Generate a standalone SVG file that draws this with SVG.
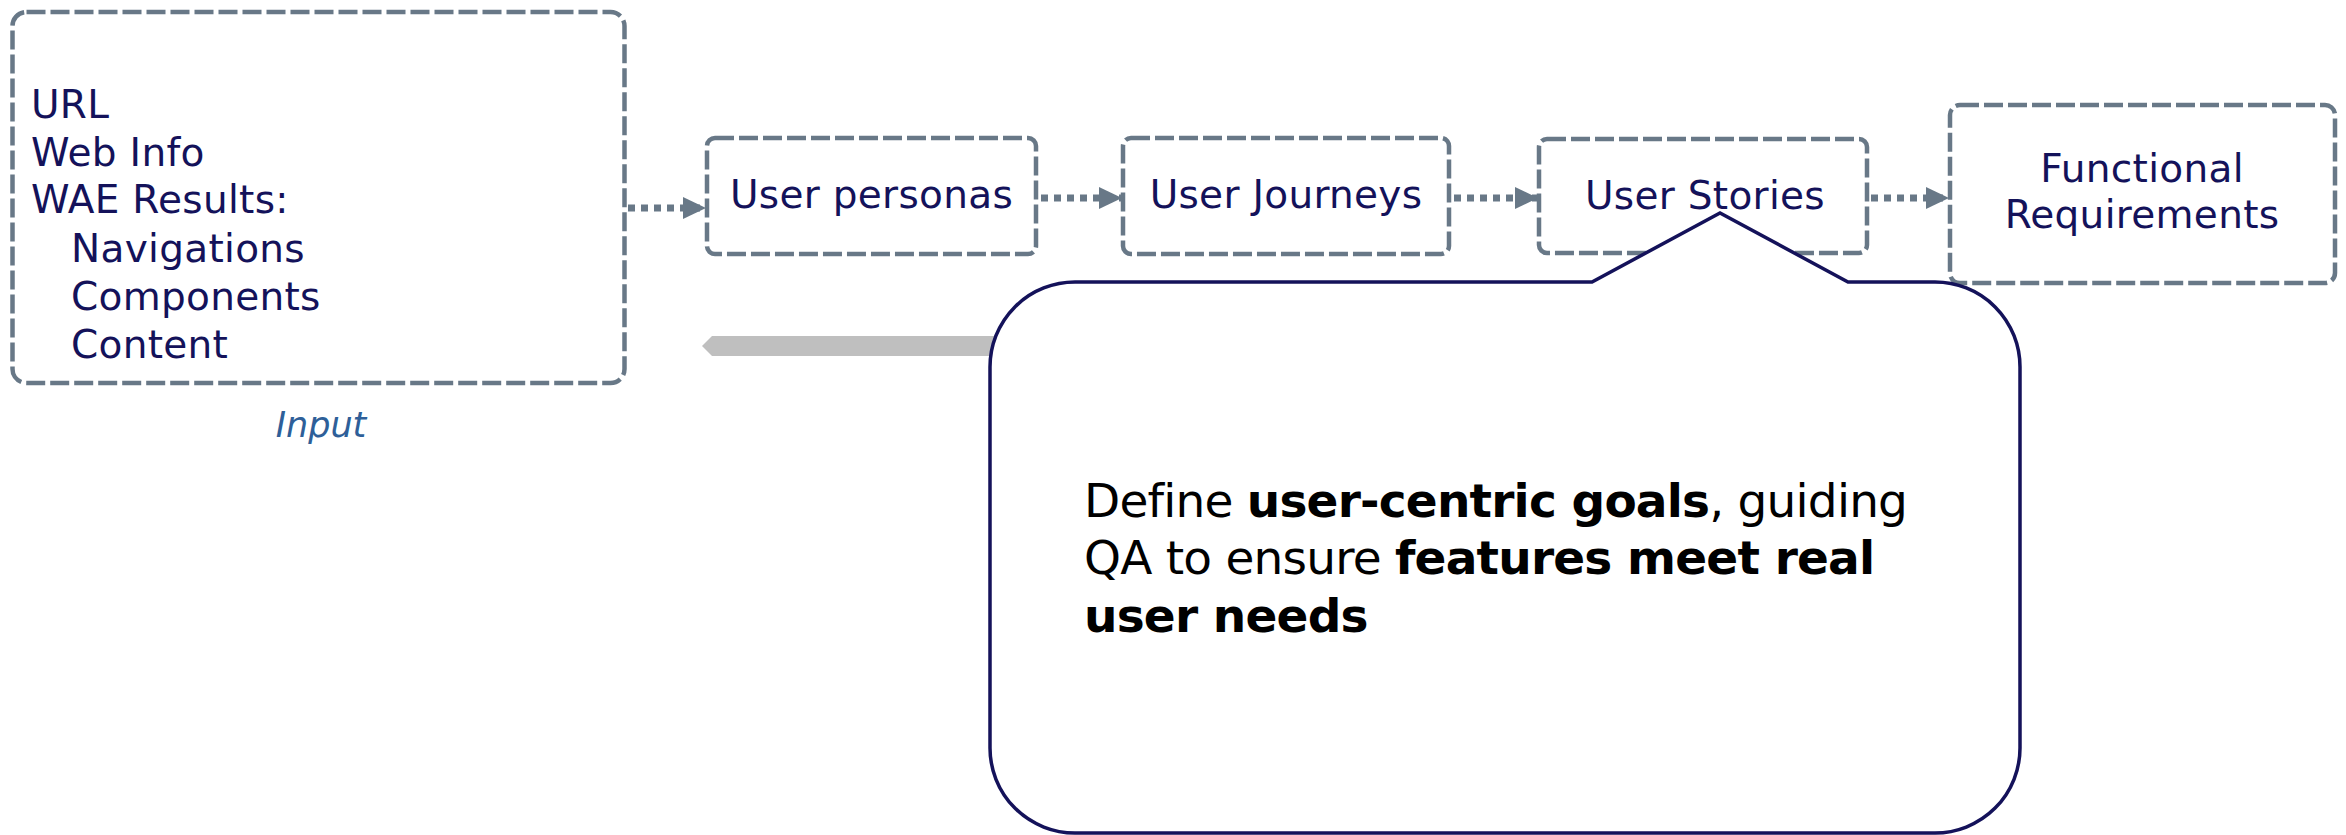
<svg xmlns="http://www.w3.org/2000/svg" width="2346" height="835" viewBox="0 0 2346 835">
<defs>
<style>
.box{fill:none;stroke:#687887;stroke-width:4.5;stroke-dasharray:19 5}
.t{font-family:"DejaVu Sans","Open Sans",sans-serif;font-size:39px;letter-spacing:0.3px;fill:#14125a}
.c{text-anchor:middle}
.conn{fill:none;stroke:#687887;stroke-width:7;stroke-dasharray:7 6}
.call{font-family:"DejaVu Sans","Open Sans",sans-serif;font-size:47px;letter-spacing:-0.8px;fill:#000}
.b{font-weight:700}
</style>
<marker id="ah" markerUnits="userSpaceOnUse" markerWidth="24" markerHeight="24" viewBox="0 0 24 24" refX="23" refY="12" orient="auto">
<polygon points="0,1 23,12 0,23" fill="#687887"/>
</marker>
</defs>
<rect width="2346" height="835" fill="#fff"/>
<g id="input">
<rect class="box" x="12.5" y="12" width="612" height="371" rx="14"/>
<text class="t" x="31" y="118">URL</text>
<text class="t" x="31" y="166">Web Info</text>
<text class="t" x="31" y="213">WAE Results:</text>
<text class="t" x="71" y="262">Navigations</text>
<text class="t" x="71" y="310">Components</text>
<text class="t" x="71" y="358">Content</text>
<text x="321" y="437" text-anchor="middle" font-family="DejaVu Sans, Open Sans, sans-serif" font-size="35" font-style="italic" fill="#2e5f99">Input</text>
</g>
<g id="connectors">
<line class="conn" x1="628" y1="208" x2="706" y2="208" marker-end="url(#ah)"/>
<line class="conn" x1="1041" y1="198" x2="1122" y2="198" marker-end="url(#ah)"/>
<line class="conn" x1="1454" y1="198" x2="1538" y2="198" marker-end="url(#ah)"/>
<line class="conn" x1="1871" y1="198" x2="1949" y2="198" marker-end="url(#ah)"/>
<polygon points="702,346 712,336 1000,336 1000,356 712,356" fill="#bfbfbf"/>
</g>
<g id="personas">
<rect class="box" x="707" y="138" width="329" height="116" rx="8"/>
<text class="t c" x="871.5" y="208">User personas</text>
</g>
<g id="journeys">
<rect class="box" x="1123" y="138" width="326" height="116" rx="8"/>
<text class="t c" x="1286" y="208">User Journeys</text>
</g>
<g id="stories">
<rect class="box" x="1539" y="139" width="328" height="114" rx="8"/>
<text class="t c" x="1705" y="209">User Stories</text>
</g>
<g id="functional">
<rect class="box" x="1950" y="105" width="385" height="178" rx="10"/>
<text class="t c" x="2142" y="182">Functional</text>
<text class="t c" x="2142" y="228">Requirements</text>
</g>
<g id="callout">
<path d="M1076,282 L1592,282 L1720,213 L1848,282 L1935,282 A85,85 0 0 1 2020,367 L2020,748 A85,85 0 0 1 1935,833 L1075,833 A85,85 0 0 1 990,748 L990,367 A85,85 0 0 1 1075,282 Z" fill="#fff" stroke="#14125a" stroke-width="3.5"/>
<text class="call" x="1084" y="517">Define <tspan class="b">user-centric goals</tspan>, guiding</text>
<text class="call" x="1084" y="574">QA to ensure <tspan class="b">features meet real</tspan></text>
<text class="call" x="1084" y="632"><tspan class="b">user needs</tspan></text>
</g>
</svg>
